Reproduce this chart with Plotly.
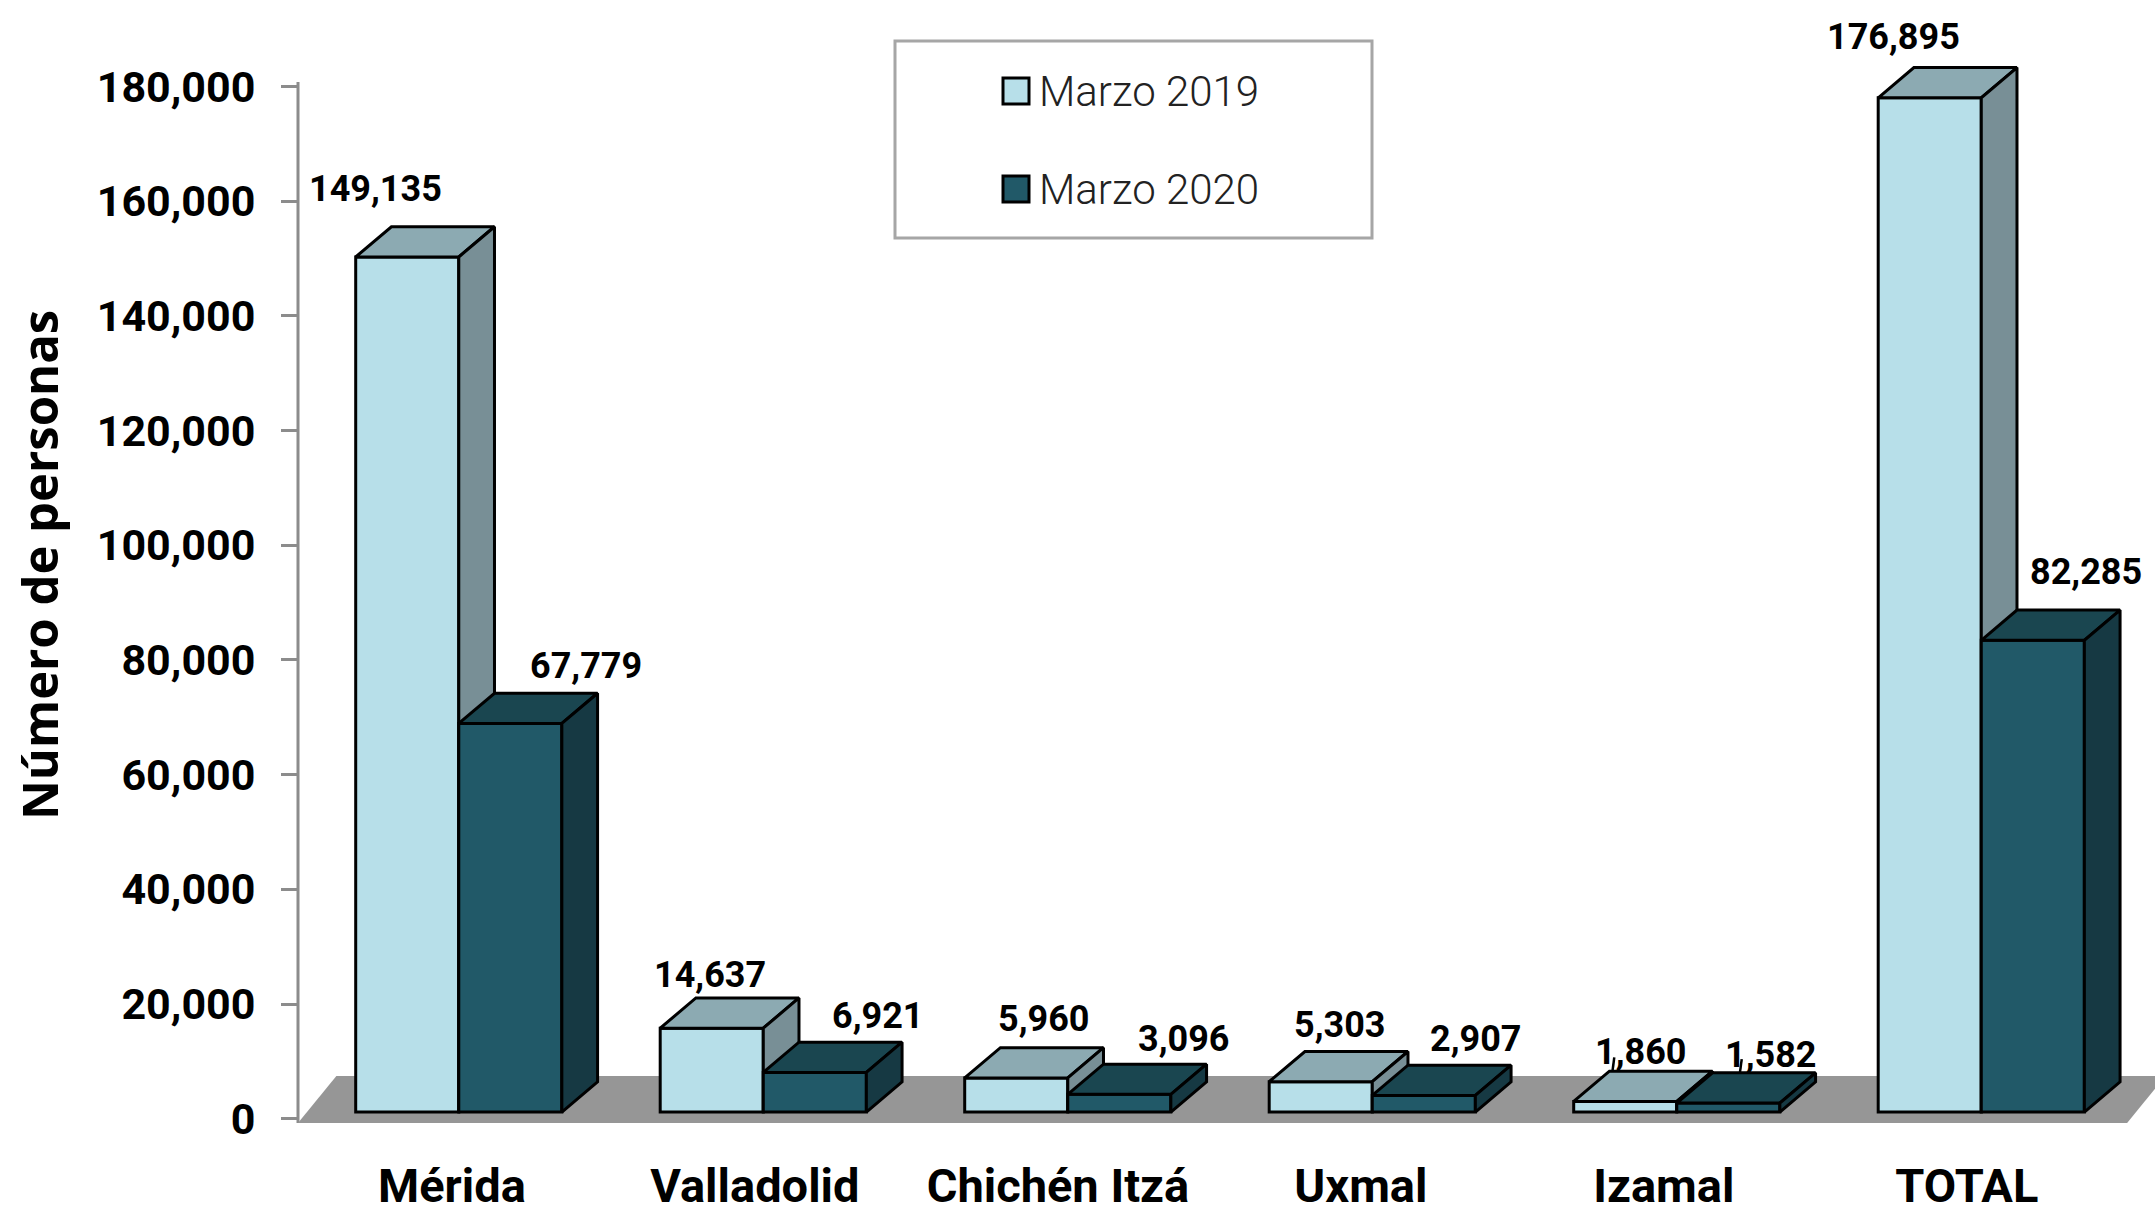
import plotly.graph_objects as go

categories = ["Mérida", "Valladolid", "Chichén Itzá", "Uxmal", "Izamal", "TOTAL"]
marzo_2019 = [149135, 14637, 5960, 5303, 1860, 176895]
marzo_2020 = [67779, 6921, 3096, 2907, 1582, 82285]
y_ticks = [0, 20000, 40000, 60000, 80000, 100000, 120000, 140000, 160000, 180000]
series_names = ["Marzo 2019", "Marzo 2020"]

W, H = 2155, 1215
ML, MB = 298, 92
PX_PER_CAT = 304.5
PX_PER_VAL = 1032.1 / 180000
Y0_PX = 1118.7
X_RANGE = [0, (W - ML) / PX_PER_CAT]
Y_RANGE = [-(1123 - Y0_PX) / PX_PER_VAL, Y0_PX / PX_PER_VAL]

GROUP0 = 0.528
BW = 0.3385
DX = 0.1173
DY = 5270
BASE = 1150
FONT = "Roboto"
TICK_POS = [0.5055 + 0.995 * i for i in range(6)]

FRONT = ["#B7DFE9", "#215968"]
TOP = ["#8CAAB2", "#1A4650"]
SIDE = ["#788F96", "#163943"]

fig = go.Figure()


def poly(xs, ys, color, ax):
    fig.add_trace(go.Scatter(
        x=xs + xs[:1], y=ys + ys[:1], mode="lines", fill="toself", fillcolor=color,
        line=dict(color="black", width=3), xaxis=ax[0], yaxis=ax[1],
        showlegend=False, hoverinfo="skip", cliponaxis=False))


for s, (vals, ax) in enumerate([(marzo_2019, ("x", "y")), (marzo_2020, ("x2", "y2"))]):
    lefts = [GROUP0 + i - BW + s * BW for i in range(len(categories))]
    fig.add_trace(go.Bar(
        x=[l + BW / 2 for l in lefts], y=vals, base=BASE, width=BW, name=series_names[s],
        marker=dict(color=FRONT[s], line=dict(color="black", width=3)),
        xaxis=ax[0], yaxis=ax[1], showlegend=False))
    for l, v in zip(lefts, vals):
        t = v + BASE
        r = l + BW
        poly([l, r, r + DX, l + DX], [t, t, t + DY, t + DY], TOP[s], ax)
        poly([r, r + DX, r + DX, r], [BASE, BASE + DY, t + DY, t], SIDE[s], ax)

# leader lines of the two Izamal labels
for s, ax, off in [(0, ("x", "y"), 0.01), (1, ("x2", "y2"), 0.09)]:
    vals = [marzo_2019, marzo_2020][s]
    left = GROUP0 + 4 - BW + s * BW
    yv = vals[4] + BASE + DY
    fig.add_trace(go.Scatter(
        x=[left + DX + off, left + DX + off + 0.006], y=[yv, yv + 2400], mode="lines",
        line=dict(color="black", width=2.5), xaxis=ax[0], yaxis=ax[1],
        showlegend=False, hoverinfo="skip"))


def pap(px, py):
    """Figure pixels to paper coordinates, which are relative to the plot area."""
    return (px - ML) / (W - ML), 1 - py / (H - MB)


label_shift_x = [[-67, -37, -8, -17, -20, -72], [40, 27, 28, 16, 6, 17]]
label_shift_y = [[38, 23, 29, 26, 19, 31], [27, 26, 25, 26, 18, 38]]
annotations = []
for s, vals in enumerate([marzo_2019, marzo_2020]):
    for i, v in enumerate(vals):
        annotations.append(dict(
            x=GROUP0 + i - BW + s * BW + BW / 2 + DX, y=v + BASE + DY,
            xref="x", yref="y", text=f"{v:,}", showarrow=False,
            xshift=label_shift_x[s][i], yshift=label_shift_y[s][i],
            xanchor="center", yanchor="middle",
            font=dict(family=FONT, size=36, color="black", weight=700)))

for name, cy in zip(series_names, [91, 189]):
    ax_, ay_ = pap(1037, cy)
    annotations.append(dict(
        x=ax_, y=ay_, xref="paper", yref="paper", text=name, showarrow=False,
        xanchor="left", yanchor="middle",
        font=dict(family=FONT, size=42, color="#222222", weight=300)))

tx, ty = pap(39, 565)
annotations.append(dict(
    x=tx, y=ty, xref="paper", yref="paper", text="Número de personas", showarrow=False,
    textangle=-90, xanchor="center", yanchor="middle",
    font=dict(family="Open Sans", size=49, color="black", weight=700)))

shapes = []
# floor
flx = [0, 6.007, 6.007 + 0.126, 0.126]
fly = [Y_RANGE[0], Y_RANGE[0], 7450, 7450]
path = "M " + " L ".join(f"{a},{b}" for a, b in zip(flx, fly)) + " Z"
shapes.append(dict(type="path", path=path, xref="x", yref="y", fillcolor="#969696",
                   line=dict(width=0), layer="below"))
# value axis line
shapes.append(dict(type="line", xref="paper", yref="y", x0=0, x1=0, y0=Y_RANGE[0], y1=180800,
                   line=dict(color="#8C8C8C", width=3), layer="below"))
# legend frame and swatches
fx0, fy0 = pap(895, 41)
fx1, fy1 = pap(1372, 238)
shapes.append(dict(type="rect", xref="paper", yref="paper", x0=fx0, x1=fx1, y0=fy1, y1=fy0,
                   line=dict(color="#A6A6A6", width=3), fillcolor="white", layer="above"))
for cy, c in [(91, FRONT[0]), (189, FRONT[1])]:
    sx0, sy0 = pap(1003, cy - 13)
    sx1, sy1 = pap(1029, cy + 13)
    shapes.append(dict(type="rect", xref="paper", yref="paper", x0=sx0, x1=sx1, y0=sy1, y1=sy0,
                       line=dict(color="black", width=3), fillcolor=c, layer="above"))

fig.update_layout(
    width=W, height=H, autosize=False, paper_bgcolor="white", plot_bgcolor="rgba(0,0,0,0)",
    margin=dict(l=ML, r=0, t=0, b=MB, pad=0), barmode="overlay", showlegend=False,
    annotations=annotations, shapes=shapes,
    xaxis=dict(range=X_RANGE, showgrid=False, zeroline=False, showline=False,
               tickmode="array", tickvals=TICK_POS, ticktext=categories,
               ticks="outside", ticklen=22, tickcolor="rgba(0,0,0,0)", tickwidth=1,
               tickfont=dict(family=FONT, size=47, color="black", weight=700), automargin=False),
    yaxis=dict(range=Y_RANGE, showgrid=False, zeroline=False, showline=False,
               tickmode="array", tickvals=y_ticks, tickformat=",",
               ticks="outside", ticklen=16, tickwidth=3, tickcolor="#8C8C8C",
               ticklabelstandoff=17,
               tickfont=dict(family=FONT, size=43, color="black", weight=700), automargin=False),
    xaxis2=dict(range=X_RANGE, overlaying="x", visible=False),
    yaxis2=dict(range=Y_RANGE, overlaying="y", visible=False),
)
fig.write_html("out.html", config=dict(displayModeBar=False),
               post_script="document.body.style.margin='0';")
